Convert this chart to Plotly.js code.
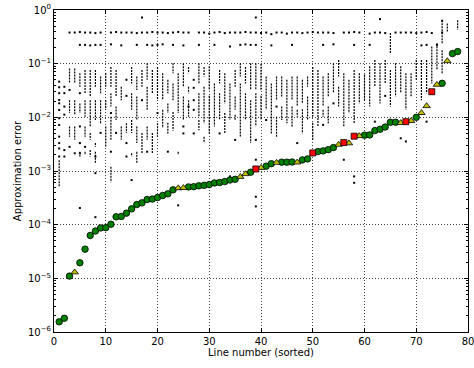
<!DOCTYPE html>
<html><head><meta charset="utf-8">
<script src="https://cdn.plot.ly/plotly-3.0.1.min.js"></script>
<style>html,body{margin:0;padding:0;background:#fff}</style>
</head><body><div id="chart" style="width:474px;height:368px"></div>
<script>
// Sorted approximation error per line (main series)
const lineNo = [1,2,3,4,5,6,7,8,9,10,11,12,13,14,15,16,17,18,19,20,21,22,23,24,25,26,27,28,29,30,31,32,33,34,35,36,37,38,39,40,41,42,43,44,45,46,47,48,49,50,51,52,53,54,55,56,57,58,59,60,61,62,63,64,65,66,67,68,69,70,71,72,73,74,75,76,77,78];
const approxErr = [1.55e-6,1.8e-6,1.1e-5,1.3e-5,1.95e-5,3.5e-5,6.3e-5,7.6e-5,8.7e-5,8.8e-5,
  1.02e-4,1.4e-4,1.42e-4,1.64e-4,1.97e-4,2.37e-4,2.55e-4,2.94e-4,3.0e-4,3.2e-4,
  3.5e-4,3.75e-4,4.45e-4,4.8e-4,4.85e-4,5.05e-4,5.1e-4,5.3e-4,5.4e-4,5.58e-4,
  6.0e-4,6.1e-4,6.35e-4,6.8e-4,7.0e-4,7.8e-4,8.8e-4,9.5e-4,1.09e-3,1.15e-3,
  1.23e-3,1.37e-3,1.43e-3,1.46e-3,1.46e-3,1.47e-3,1.45e-3,1.61e-3,1.68e-3,2.17e-3,
  2.3e-3,2.37e-3,2.5e-3,2.73e-3,3.1e-3,3.39e-3,3.3e-3,4.45e-3,4.5e-3,4.64e-3,
  4.7e-3,5.66e-3,6.0e-3,6.6e-3,8.1e-3,8.1e-3,7.9e-3,8.3e-3,8.6e-3,1.0e-2,
  1.21e-2,1.63e-2,3.0e-2,4.07e-2,4.3e-2,0.112,0.154,0.168];
const triangleLines = [4,24,25,36,37,40,43,47,55,57,59,67,69,71,72,74,76];
const squareLines = [39,50,56,58,68,73];

// Cloud of other errors: dense vertical runs (column, top exponent, bottom exponent)
const runCol = [1,3,3,3,4,4,4,5,5,5,6,6,6,6,7,7,7,7,8,8,8,8,9,9,10,10,10,11,11,11,11,12,12,13,13,14,
  15,15,15,15,16,16,16,16,17,17,18,18,18,19,19,20,20,21,21,22,22,22,23,23,23,24,24,25,25,
  26,26,26,28,28,28,29,29,29,30,30,31,32,32,33,33,34,35,35,35,36,36,37,37,38,38,39,39,40,40,
  41,42,43,43,44,44,45,46,46,47,47,48,48,49,49,50,50,51,52,52,53,53,54,55,55,56,57,58,59,60,
  61,62,63,64,65,65,66,67,68,69,70,71,72,73,74,75,75,76,78];
const runTopExp = [-2.8,-1.09,-1.68,-2.17,-1.09,-1.68,-2.17,-1.18,-1.74,-2.64,-1.12,-1.68,-2.17,-2.64,-1.12,-1.68,-2.29,-2.61,-1.12,-1.68,-2.48,-2.64,-1.24,-1.68,-1.18,-1.68,-2.17,-1.06,-1.55,-1.99,-2.92,-1.12,-1.80,-1.43,-2.17,-2.11,
  -1.06,-1.55,-2.05,-2.67,-1.24,-1.61,-2.17,-2.64,-1.12,-2.29,-0.99,-1.43,-2.17,-1.12,-2.29,-1.06,-2.11,-1.18,-1.86,-1.30,-1.74,-2.10,-0.99,-1.37,-1.90,-1.18,-2.64,-0.99,-1.61,
  -1.06,-1.43,-1.68,-0.99,-1.55,-2.05,-1.06,-1.43,-2.36,-1.05,-1.60,-1.37,-1.12,-1.55,-1.18,-1.92,-1.37,-1.12,-1.61,-1.95,-0.99,-1.37,-1.06,-1.55,-0.99,-1.68,-0.99,-1.55,-1.00,-1.60,
  -1.24,-1.37,-1.24,-1.99,-1.24,-1.80,-1.30,-1.24,-1.80,-1.24,-1.86,-1.30,-1.85,-1.24,-1.61,-1.06,-2.10,-1.12,-1.24,-1.86,-1.18,-1.80,-0.99,-0.93,-1.43,-1.18,-1.30,-1.12,-1.18,-1.20,
  -1.05,-0.93,-0.99,-0.93,-0.43,-1.12,-0.99,-1.05,-1.18,-1.18,-0.93,-0.93,-0.93,-0.68,-0.62,-0.19,-0.75,-0.25,-0.19];
const runBotExp = [-3.3,-1.37,-1.92,-2.36,-1.37,-1.95,-2.42,-1.43,-1.92,-2.73,-1.55,-1.99,-2.36,-2.70,-1.61,-2.17,-2.42,-2.73,-1.43,-2.05,-2.55,-2.85,-1.55,-2.11,-1.43,-1.86,-2.55,-1.43,-1.80,-2.42,-3.21,-1.61,-2.05,-1.68,-2.42,-2.29,
  -1.37,-1.86,-2.29,-2.73,-1.49,-2.05,-2.48,-2.85,-1.43,-2.67,-1.30,-1.86,-2.42,-1.55,-2.67,-1.68,-2.36,-1.68,-2.20,-1.55,-1.92,-2.30,-1.18,-1.68,-2.25,-1.92,-2.70,-1.43,-2.05,
  -1.18,-1.55,-1.99,-1.37,-1.99,-2.24,-1.24,-2.11,-2.48,-1.50,-2.30,-2.17,-1.37,-2.05,-1.74,-2.30,-2.05,-1.43,-1.86,-2.05,-1.24,-2.36,-1.37,-2.05,-1.49,-2.48,-1.49,-2.17,-1.50,-2.05,
  -1.86,-2.30,-1.68,-2.36,-1.61,-2.05,-2.11,-1.68,-2.17,-1.80,-1.99,-1.74,-2.30,-1.43,-2.05,-1.99,-2.42,-2.17,-1.80,-1.99,-1.61,-2.11,-1.55,-1.24,-1.80,-2.17,-1.92,-2.11,-1.74,-1.70,
  -1.80,-1.43,-1.74,-1.37,-0.80,-1.80,-1.61,-1.55,-1.86,-1.61,-1.30,-1.68,-1.55,-1.37,-1.12,-0.62,-1.18,-0.40,-0.37];

// Isolated dots (column, exponent)
const dotCol = [3,4,5,6,7,8,9,11,12,13,14,15,16,17,18,19,20,21,22,23,24,25,26,28,29,30,31,32,33,34,35,36,37,38,39,40,41,42,43,44,45,46,47,48,49,50,51,52,53,54,56,57,58,59,61,62,63,64,66,67,68,69,70,71,72,73,75,
  5,6,7,8,9,11,13,16,18,19,20,21,23,25,28,31,34,36,37,38,39,42,46,52,54,58,61,71,72,74,
  17,39,63,75,
  1,1,1,1,1,1,1,1,1,1,1,1,2,2,2,2,2,2,3,3,4,5,5,5,5,5,6,8,8,8,9,11,11,12,14,14,14,14,15,17,18,20,22,24,25,25,26,27,27,27,27,27,32,34,35,39,39,39,39,41,43,47,52,54,56,58,58,62,64,67,68,72];
const dotExp = [-0.42,-0.42,-0.41,-0.42,-0.42,-0.43,-0.42,-0.42,-0.41,-0.42,-0.42,-0.42,-0.43,-0.42,-0.42,-0.41,-0.42,-0.42,-0.43,-0.42,-0.41,-0.42,-0.42,-0.42,-0.42,-0.44,-0.42,-0.41,-0.43,-0.42,-0.42,-0.42,-0.41,-0.42,-0.42,-0.43,-0.42,-0.45,-0.42,-0.42,-0.44,-0.42,-0.42,-0.43,-0.42,-0.41,-0.42,-0.42,-0.42,-0.43,-0.42,-0.42,-0.41,-0.42,-0.44,-0.42,-0.42,-0.43,-0.42,-0.42,-0.42,-0.42,-0.43,-0.42,-0.41,-0.43,-0.42,
  -0.65,-0.65,-0.66,-0.65,-0.65,-0.64,-0.66,-0.65,-0.65,-0.66,-0.65,-0.64,-0.65,-0.66,-0.65,-0.65,-0.68,-0.65,-0.64,-0.65,-0.65,-0.66,-0.65,-0.65,-0.64,-0.65,-0.65,-0.66,-0.65,-0.65,
  -0.14,-0.14,-0.17,-0.20,
  -1.335,-1.44,-1.55,-1.676,-1.738,-1.862,-2.017,-2.142,-2.36,-2.48,-2.58,-2.73,-1.43,-1.55,-1.80,-1.95,-2.61,-2.73,-1.49,-2.55,-2.67,-1.55,-2.17,-2.48,-2.67,-3.69,-2.55,-2.73,-3.04,-3.86,-2.29,-1.92,-2.64,-2.29,-1.30,-1.60,-2.48,-2.73,-3.17,-1.68,-2.64,-1.92,-2.64,-3.64,-2.17,-2.30,-1.80,-1.30,-1.45,-1.68,-1.86,-2.30,-2.30,-3.10,-2.42,-2.42,-2.79,-3.48,-3.66,-2.05,-1.80,-2.48,-2.14,-1.74,-2.79,-3.10,-3.22,-2.08,-1.60,-2.39,-2.45,-2.08];

const yTickVals = [1e-6,1e-5,1e-4,1e-3,1e-2,1e-1,1];
const yTickText = ['10<sup>\u22126</sup>','10<sup>\u22125</sup>','10<sup>\u22124</sup>','10<sup>\u22123</sup>','10<sup>\u22122</sup>','10<sup>\u22121</sup>','10<sup>0</sup>'];
const xTickVals = [0,10,20,30,40,50,60,70,80];

// build run segments
const rx = [], ry = [];
for (let k = 0; k < runCol.length; k++) {
  rx.push(runCol[k], runCol[k], null);
  ry.push(Math.pow(10, runTopExp[k]), Math.pow(10, runBotExp[k]), null);
}
const dx = dotCol.slice();
const dy = dotExp.map(e => Math.pow(10, e));

const gX = [], gY = [], tX = [], tY = [], sX = [], sY = [];
lineNo.forEach((n, k) => {
  if (triangleLines.includes(n)) { tX.push(n); tY.push(approxErr[k]); }
  else if (squareLines.includes(n)) { sX.push(n); sY.push(approxErr[k]); }
  else { gX.push(n); gY.push(approxErr[k]); }
});

const traces = [
  {x: rx, y: ry, mode: 'lines', line: {color: '#000', width: 1.2, dash: '2px,1px'}, hoverinfo: 'skip', showlegend: false},
  {x: dx, y: dy, mode: 'markers', marker: {symbol: 'square', size: 2, color: '#000', line: {width: 0}}, showlegend: false},
  {x: gX, y: gY, mode: 'markers', marker: {symbol: 'circle', size: 6.5, color: '#008000', line: {color: '#000', width: 0.8}}, showlegend: false},
  {x: tX, y: tY, mode: 'markers', marker: {symbol: 'triangle-up', size: 6.5, color: '#bfbf00', line: {color: '#000', width: 0.8}}, showlegend: false},
  {x: sX, y: sY, mode: 'markers', marker: {symbol: 'square', size: 6, color: '#ff0000', line: {color: '#000', width: 0.8}}, showlegend: false}
];

const font = {family: 'DejaVu Sans', size: 10, color: '#000'};
const layout = {
  width: 474, height: 368,
  margin: {l: 54, r: 6, t: 10, b: 36},
  paper_bgcolor: '#fff', plot_bgcolor: '#fff',
  font: font,
  showlegend: false,
  xaxis: {
    range: [0, 80], tickmode: 'array', tickvals: xTickVals,
    ticks: 'inside', ticklen: 4, tickwidth: 1, tickcolor: '#000',
    showline: true, linecolor: '#000', linewidth: 1, mirror: 'allticks',
    showgrid: true, gridcolor: '#444', gridwidth: 1, griddash: '1px,2px',
    zeroline: false, tickfont: font, ticklabeloverflow: 'allow',
    title: {text: 'Line number (sorted)', font: font, standoff: 2}
  },
  yaxis: {
    type: 'log', range: [-6, 0], tickmode: 'array', tickvals: yTickVals, ticktext: yTickText,
    ticks: 'inside', ticklen: 4, tickwidth: 1, tickcolor: '#000',
    minor: {ticks: 'inside', ticklen: 2, tickcolor: '#000', dtick: 'D1', showgrid: false},
    showline: true, linecolor: '#000', linewidth: 1, mirror: 'allticks',
    showgrid: true, gridcolor: '#444', gridwidth: 1, griddash: '1px,2px',
    zeroline: false, tickfont: font, ticklabeloverflow: 'allow',
    title: {text: 'Approximation error', font: font, standoff: 4}
  }
};
Plotly.newPlot('chart', traces, layout, {displayModeBar: false, staticPlot: true});
</script>
</body></html>
